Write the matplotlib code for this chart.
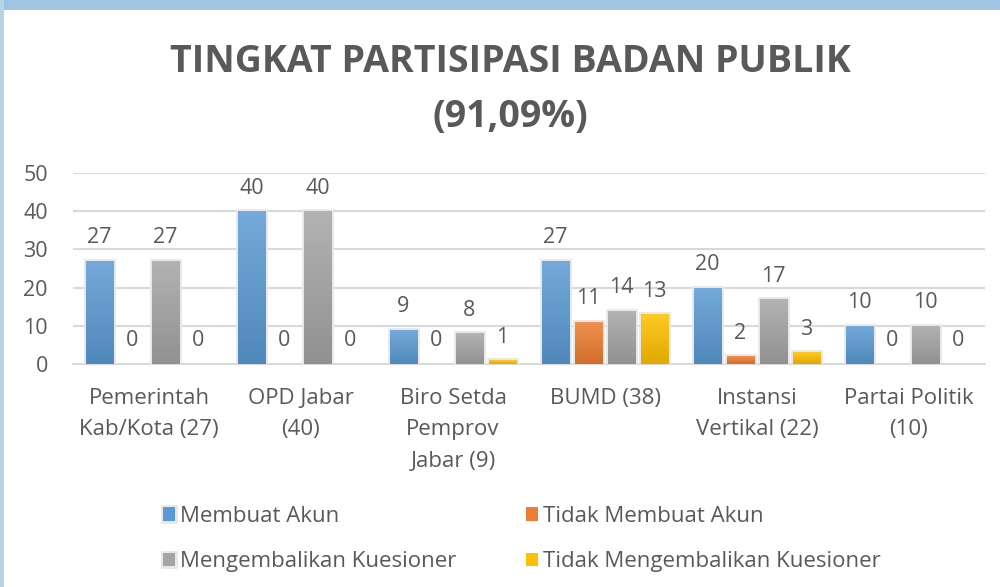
import matplotlib.pyplot as plt
import matplotlib.patheffects as pe
import numpy as np
from matplotlib.colors import to_rgb
from matplotlib.patches import Rectangle

plt.rcParams["font.family"] = ["Open Sans", "DejaVu Sans"]

categories = ["Pemerintah\nKab/Kota (27)", "OPD Jabar\n(40)", "Biro Setda\nPemprov\nJabar (9)",
              "BUMD (38)", "Instansi\nVertikal (22)", "Partai Politik\n(10)"]
membuat_akun = [27, 40, 9, 27, 20, 10]
tidak_membuat_akun = [0, 0, 0, 11, 2, 0]
mengembalikan = [27, 40, 8, 14, 17, 10]
tidak_mengembalikan = [0, 0, 1, 13, 3, 0]

series = [
    ("Membuat Akun", membuat_akun, "#5b9bd5"),
    ("Tidak Membuat Akun", tidak_membuat_akun, "#ed7d31"),
    ("Mengembalikan Kuesioner", mengembalikan, "#a5a5a5"),
    ("Tidak Mengembalikan Kuesioner", tidak_mengembalikan, "#ffc000"),
]
TEXT = "#595959"


def gradient(color):
    # light top, darker bottom, like the Office bar fill
    c = np.array(to_rgb(color))
    top = c + (1 - c) * 0.15
    bottom = c * 0.88
    t = np.linspace(0, 1, 64)[:, None]
    return (top * (1 - t) + bottom * t)[:, None, :]


fig = plt.figure(figsize=(10, 5.87), dpi=100)
fig.patch.set_facecolor("white")
# screenshot frame: blue band on top and left
fig.add_artist(Rectangle((0, 1 - 10 / 587), 1, 10 / 587, transform=fig.transFigure,
                         facecolor="#9fc5e3", edgecolor="none"))
fig.add_artist(Rectangle((0, 0), 4 / 1000, 1, transform=fig.transFigure,
                         facecolor="#b7d3e8", edgecolor="none"))

ax = fig.add_axes([0.073, 0.380, 0.912, 0.325])
x = np.arange(len(categories))
step = 0.217
width = 0.178
shadow = [pe.withStroke(linewidth=3.5, foreground="#e8e8e8")]

handles = []
for i, (name, vals, color) in enumerate(series):
    pos = x + (i - 1.5) * step
    bars = ax.bar(pos, vals, width, color=color, label=name, zorder=3)
    handles.append(bars)
    img = gradient(color)
    for b, v in zip(bars, vals):
        if v == 0:
            continue
        b.set_path_effects(shadow)
        im = ax.imshow(img, extent=(b.get_x(), b.get_x() + width, 0, v),
                       aspect="auto", origin="upper", zorder=4)
        im.set_clip_path(b)
    for p, v in zip(pos, vals):
        ax.annotate(str(v), (p, v), xytext=(0, 9), textcoords="offset points",
                    ha="center", va="bottom", fontsize=15.5, color=TEXT)

ax.set_xlim(-0.5, len(categories) - 0.5)
ax.set_ylim(0, 50)
ax.set_yticks(range(0, 51, 10))
ax.yaxis.grid(True, color="#d9d9d9", linewidth=1.5, zorder=0)
ax.set_axisbelow(True)
for s in ["top", "right", "left"]:
    ax.spines[s].set_visible(False)
ax.spines["bottom"].set_color("#d9d9d9")
ax.spines["bottom"].set_linewidth(1.5)
ax.set_xticks(x)
ax.set_xticklabels(categories, fontsize=16, color=TEXT, linespacing=1.67, va="top")
ax.tick_params(axis="x", length=0, pad=17)
ax.tick_params(axis="y", length=0, pad=18, labelsize=15.5, labelcolor=TEXT)

fig.text(0.51, 0.895, "TINGKAT PARTISIPASI BADAN PUBLIK", ha="center", va="center",
         fontsize=27, fontweight="bold", color=TEXT)
fig.text(0.51, 0.80, "(91,09%)", ha="center", va="center",
         fontsize=27, fontweight="bold", color=TEXT)

# legend filled row by row
order = [0, 2, 1, 3]
fig.legend([handles[k] for k in order], [series[k][0] for k in order],
           loc="upper left", bbox_to_anchor=(0.143, 0.172), ncol=2, frameon=False,
           fontsize=16, labelcolor=TEXT, handlelength=0.55, handleheight=0.55,
           handletextpad=0.2, columnspacing=3.15, labelspacing=1.1)

fig.savefig("out.png", dpi=100, facecolor="white")
